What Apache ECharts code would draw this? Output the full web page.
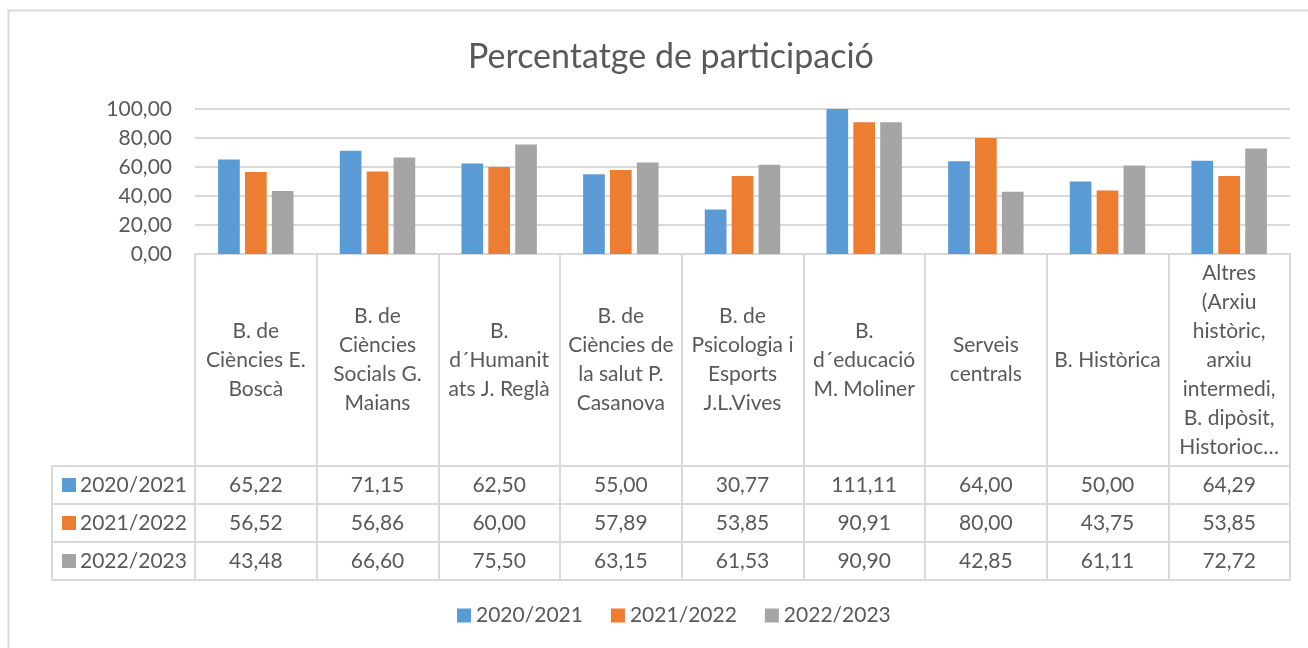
<!DOCTYPE html>
<html>
<head>
<meta charset="utf-8">
<script src="https://cdn.jsdelivr.net/npm/echarts@6/dist/echarts.min.js"></script>
<style>
  html, body { margin: 0; padding: 0; background: #fff; }
  #main { width: 1308px; height: 648px; }
</style>
</head>
<body>
<div id="main"></div>
<script>
// etiquetes de categoria (amb els salts de línia de la taula)
var categories = [
  'B. de\nCiències E.\nBoscà',
  'B. de\nCiències\nSocials G.\nMaians',
  'B.\nd´Humanit\nats J. Reglà',
  'B. de\nCiències de\nla salut P.\nCasanova',
  'B. de\nPsicologia i\nEsports\nJ.L.Vives',
  'B.\nd´educació\nM. Moliner',
  'Serveis\ncentrals',
  'B. Històrica',
  'Altres\n(Arxiu\nhistòric,\narxiu\nintermedi,\nB. dipòsit,\nHistorioc…'
];
var seriesNames = ['2020/2021', '2021/2022', '2022/2023'];
var data2021 = [65.22, 71.15, 62.50, 55.00, 30.77, 111.11, 64.00, 50.00, 64.29];
var data2122 = [56.52, 56.86, 60.00, 57.89, 53.85, 90.91, 80.00, 43.75, 53.85];
var data2223 = [43.48, 66.60, 75.50, 63.15, 61.53, 90.90, 42.85, 61.11, 72.72];
var colors = ['#5b9bd5', '#ed7d31', '#a5a5a5'];
var yTicks = { min: 0, max: 100, interval: 20 };

var allData = [data2021, data2122, data2223];
var textColor = '#595959';
var lineColor = '#d9d9d9';
var font = 'Lato';
var fontSize = 21;

function fmt(v) {
  return Number(v).toFixed(2).replace('.', ',');
}

// posicions de la taula
var gridLeft = 195, gridRight = 1290, axisY = 254;
var rowLines = [466, 504, 542, 580];
var tableLeft = 52;

var chart = echarts.init(document.getElementById('main'));

var xAxes = [{
  type: 'category',
  data: categories,
  gridIndex: 0,
  position: 'bottom',
  axisLine: { lineStyle: { color: lineColor, width: 2 } },
  axisTick: { show: true, length: rowLines[3] - axisY, lineStyle: { color: lineColor, width: 2 } },
  axisLabel: {
    interval: 0, margin: 106, verticalAlign: 'middle',
    color: textColor, fontFamily: font, fontSize: fontSize, lineHeight: 29
  }
}];
allData.forEach(function (d, i) {
  xAxes.push({
    type: 'category',
    data: d.map(fmt),
    gridIndex: 0,
    position: 'bottom',
    axisLine: { show: false },
    axisTick: { show: false },
    axisLabel: {
      interval: 0, verticalAlign: 'middle',
      margin: (rowLines[i] + rowLines[i + 1]) / 2 - axisY,
      color: textColor, fontFamily: font, fontSize: fontSize
    }
  });
});

var graphics = [
  // marc exterior
  { type: 'rect', shape: { x: 8.5, y: 10.5, width: 1320, height: 660 },
    style: { fill: 'none', stroke: lineColor, lineWidth: 2 }, silent: true },
  { type: 'line', shape: { x1: tableLeft, y1: rowLines[0], x2: tableLeft, y2: rowLines[3] },
    style: { stroke: lineColor, lineWidth: 2 } }
];
rowLines.forEach(function (y) {
  graphics.push({ type: 'line', shape: { x1: tableLeft, y1: y, x2: gridRight, y2: y },
    style: { stroke: lineColor, lineWidth: 2 } });
});
seriesNames.forEach(function (name, i) {
  var cy = (rowLines[i] + rowLines[i + 1]) / 2;
  graphics.push({ type: 'rect', shape: { x: 62, y: cy - 7, width: 14, height: 14 },
    style: { fill: colors[i] } });
  graphics.push({ type: 'text', x: 80, y: cy,
    style: { text: name, fill: textColor, font: fontSize + 'px ' + font, verticalAlign: 'middle' } });
});

chart.setOption({
  backgroundColor: '#fff',
  animation: false,
  color: colors,
  title: {
    text: 'Percentatge de participació',
    left: 463,
    top: 35,
    textStyle: { color: textColor, fontFamily: font, fontSize: 34, fontWeight: 'normal' }
  },
  legend: {
    bottom: 17,
    left: 452,
    itemWidth: 14,
    itemHeight: 14,
    itemGap: 28,
    icon: 'rect',
    data: seriesNames,
    textStyle: { color: textColor, fontFamily: font, fontSize: fontSize }
  },
  grid: { left: gridLeft, right: 1308 - gridRight, top: 109, bottom: 648 - axisY },
  xAxis: xAxes,
  yAxis: {
    type: 'value',
    min: yTicks.min, max: yTicks.max, interval: yTicks.interval,
    axisLine: { show: false },
    axisTick: { show: false },
    splitLine: { lineStyle: { color: lineColor, width: 2 } },
    axisLabel: { margin: 23, color: textColor, fontFamily: font, fontSize: fontSize, formatter: fmt }
  },
  series: allData.map(function (d, i) {
    return {
      name: seriesNames[i],
      type: 'bar',
      data: d,
      clip: true,
      barGap: '24%',
      barCategoryGap: '38%'
    };
  }),
  graphic: graphics
});
</script>
</body>
</html>
